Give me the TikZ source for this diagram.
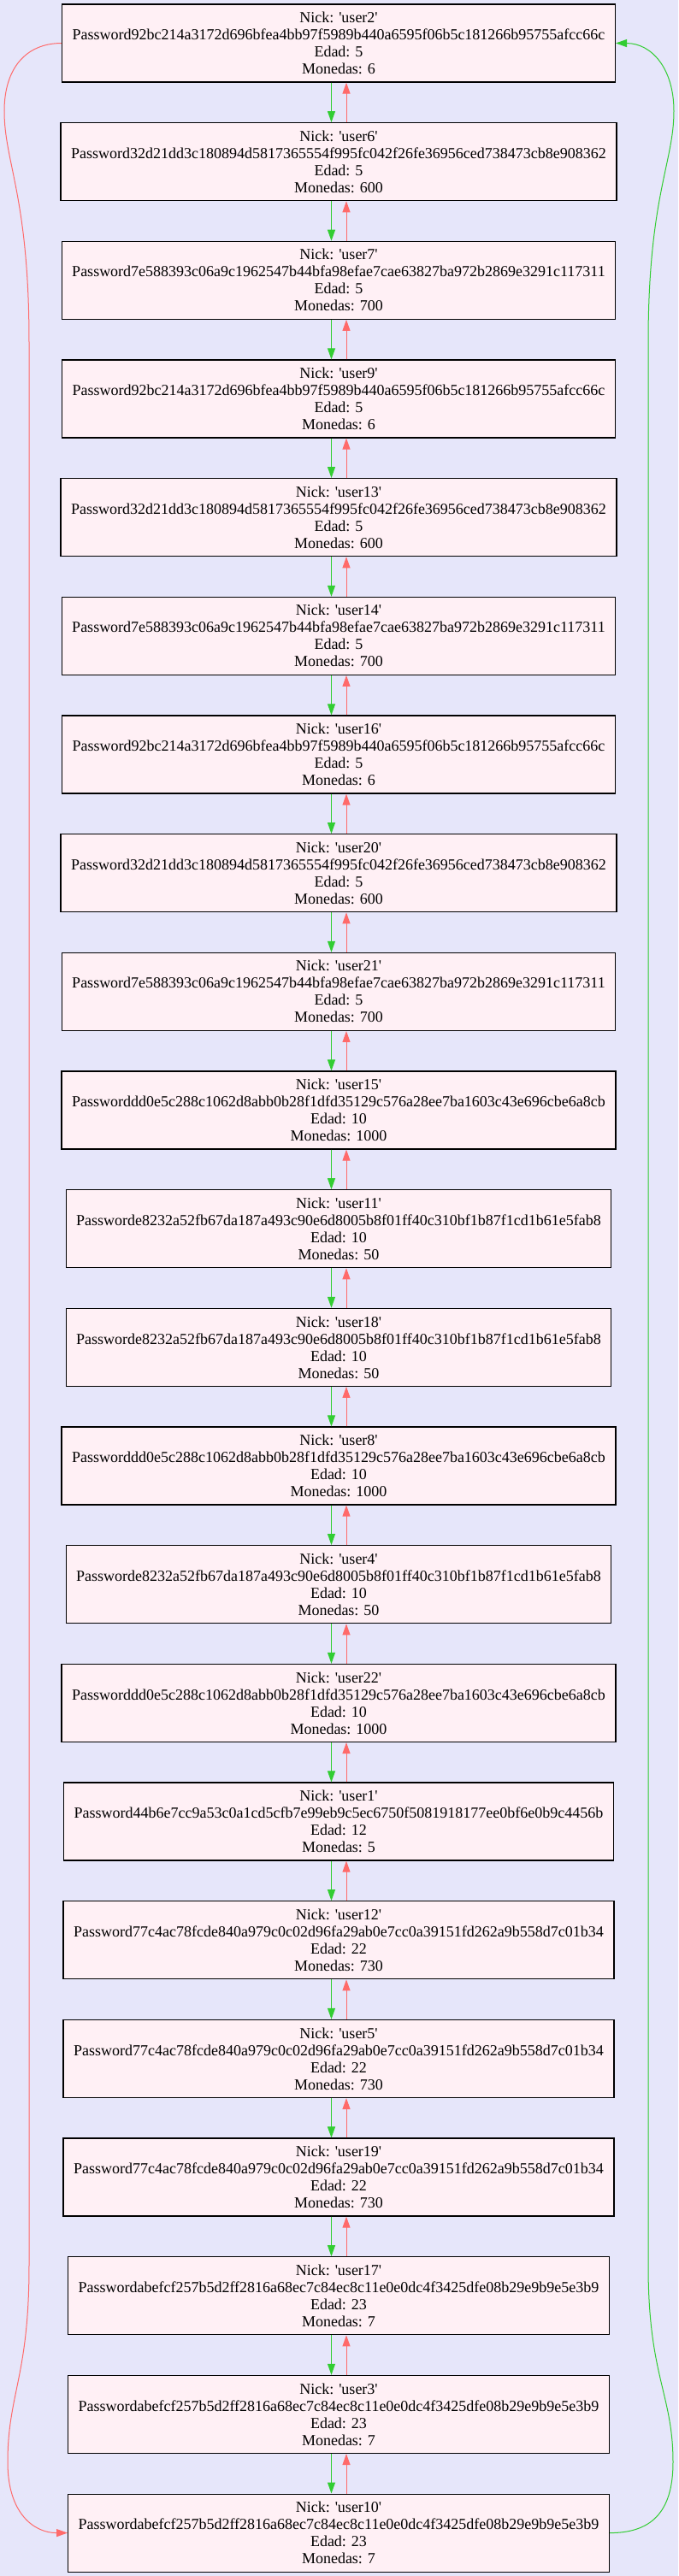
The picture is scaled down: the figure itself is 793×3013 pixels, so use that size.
\documentclass[tikz,border=0pt]{standalone}
\usepackage{fontspec}
\setmainfont{Liberation Serif}
\usetikzlibrary{arrows.meta}
\definecolor{bgc}{HTML}{E6E6FA}
\definecolor{boxfill}{HTML}{FFF0F5}
\definecolor{grn}{HTML}{32CD32}
\definecolor{rd}{HTML}{FF6A6A}
\newcommand\sq{\textquotesingle}
\newcommand\usernode[6]{\node[user] (#1) at (396,#2) {Nick: \sq#1\sq\\Password#3\\Edad: #4\\Monedas: #5};}
\begin{document}
\begin{tikzpicture}[x=1pt,y=-1pt,
  user/.style={draw=black, line width=1.2pt, fill=boxfill, rectangle, inner xsep=12pt, inner ysep=0pt, minimum height=91pt, align=center, font=\fontsize{18}{20}\selectfont},
  fwd/.style={draw=grn, line width=1pt, -{Triangle[length=13pt,width=9pt]}, fill=grn},
  bwd/.style={draw=rd, line width=1pt, -{Triangle[length=13pt,width=9pt]}, fill=rd},
  fwdcurve/.style={draw=grn, line width=1pt, -{Triangle[length=13pt,width=9pt,fill=grn]}},
  bwdcurve/.style={draw=rd, line width=1pt, -{Triangle[length=13pt,width=9pt,fill=rd]}}]
\fill[bgc] (0,0) rectangle (793,3013);
\useasboundingbox (0,0) rectangle (793,3013);
\usernode{user2}{50.5}{92bc214a3172d696bfea4bb97f5989b440a6595f06b5c181266b95755afcc66c}{5}{6}{}
\usernode{user6}{189.17}{32d21dd3c180894d5817365554f995fc042f26fe36956ced738473cb8e908362}{5}{600}{}
\usernode{user7}{327.84}{7e588393c06a9c1962547b44bfa98efae7cae63827ba972b2869e3291c117311}{5}{700}{}
\usernode{user9}{466.51}{92bc214a3172d696bfea4bb97f5989b440a6595f06b5c181266b95755afcc66c}{5}{6}{}
\usernode{user13}{605.18}{32d21dd3c180894d5817365554f995fc042f26fe36956ced738473cb8e908362}{5}{600}{}
\usernode{user14}{743.85}{7e588393c06a9c1962547b44bfa98efae7cae63827ba972b2869e3291c117311}{5}{700}{}
\usernode{user16}{882.52}{92bc214a3172d696bfea4bb97f5989b440a6595f06b5c181266b95755afcc66c}{5}{6}{}
\usernode{user20}{1021.19}{32d21dd3c180894d5817365554f995fc042f26fe36956ced738473cb8e908362}{5}{600}{}
\usernode{user21}{1159.86}{7e588393c06a9c1962547b44bfa98efae7cae63827ba972b2869e3291c117311}{5}{700}{}
\usernode{user15}{1298.53}{dd0e5c288c1062d8abb0b28f1dfd35129c576a28ee7ba1603c43e696cbe6a8cb}{10}{1000}{}
\usernode{user11}{1437.2}{e8232a52fb67da187a493c90e6d8005b8f01ff40c310bf1b87f1cd1b61e5fab8}{10}{50}{}
\usernode{user18}{1575.87}{e8232a52fb67da187a493c90e6d8005b8f01ff40c310bf1b87f1cd1b61e5fab8}{10}{50}{}
\usernode{user8}{1714.54}{dd0e5c288c1062d8abb0b28f1dfd35129c576a28ee7ba1603c43e696cbe6a8cb}{10}{1000}{}
\usernode{user4}{1853.21}{e8232a52fb67da187a493c90e6d8005b8f01ff40c310bf1b87f1cd1b61e5fab8}{10}{50}{}
\usernode{user22}{1991.88}{dd0e5c288c1062d8abb0b28f1dfd35129c576a28ee7ba1603c43e696cbe6a8cb}{10}{1000}{}
\usernode{user1}{2130.55}{44b6e7cc9a53c0a1cd5cfb7e99eb9c5ec6750f5081918177ee0bf6e0b9c4456b}{12}{5}{}
\usernode{user12}{2269.22}{77c4ac78fcde840a979c0c02d96fa29ab0e7cc0a39151fd262a9b558d7c01b34}{22}{730}{}
\usernode{user5}{2407.89}{77c4ac78fcde840a979c0c02d96fa29ab0e7cc0a39151fd262a9b558d7c01b34}{22}{730}{}
\usernode{user19}{2546.56}{77c4ac78fcde840a979c0c02d96fa29ab0e7cc0a39151fd262a9b558d7c01b34}{22}{730}{}
\usernode{user17}{2685.23}{abefcf257b5d2ff2816a68ec7c84ec8c11e0e0dc4f3425dfe08b29e9b9e5e3b9}{23}{7}{}
\usernode{user3}{2823.9}{abefcf257b5d2ff2816a68ec7c84ec8c11e0e0dc4f3425dfe08b29e9b9e5e3b9}{23}{7}{}
\usernode{user10}{2962.57}{abefcf257b5d2ff2816a68ec7c84ec8c11e0e0dc4f3425dfe08b29e9b9e5e3b9}{23}{7}{}
\foreach \a/\b in {user2/user6,user6/user7,user7/user9,user9/user13,user13/user14,user14/user16,user16/user20,user20/user21,user21/user15,user15/user11,user11/user18,user18/user8,user8/user4,user4/user22,user22/user1,user1/user12,user12/user5,user5/user19,user19/user17,user17/user3,user3/user10}{
  \draw[fwd] ([xshift=-8.5pt]\a.south) -- ([xshift=-8.5pt]\b.north);
  \draw[bwd] ([xshift=9pt]\b.north) -- ([xshift=9pt]\a.south);
}
\draw[bwdcurve] (user2.west) .. controls (30,50.7) and (5,80) .. (5,130)
  .. controls (5,190) and (34,230) .. (34,400) -- (34,2650)
  .. controls (34,2780) and (9,2800) .. (9,2880)
  .. controls (9,2940) and (40,2962.6) .. (user10.west);
\draw[fwdcurve] (user10.east) .. controls (760,2962.6) and (787,2940) .. (787,2880)
  .. controls (787,2800) and (758,2780) .. (758,2650) -- (758,400)
  .. controls (758,230) and (788,190) .. (788,130)
  .. controls (788,80) and (762,50.7) .. (user2.east);
\end{tikzpicture}
\end{document}
